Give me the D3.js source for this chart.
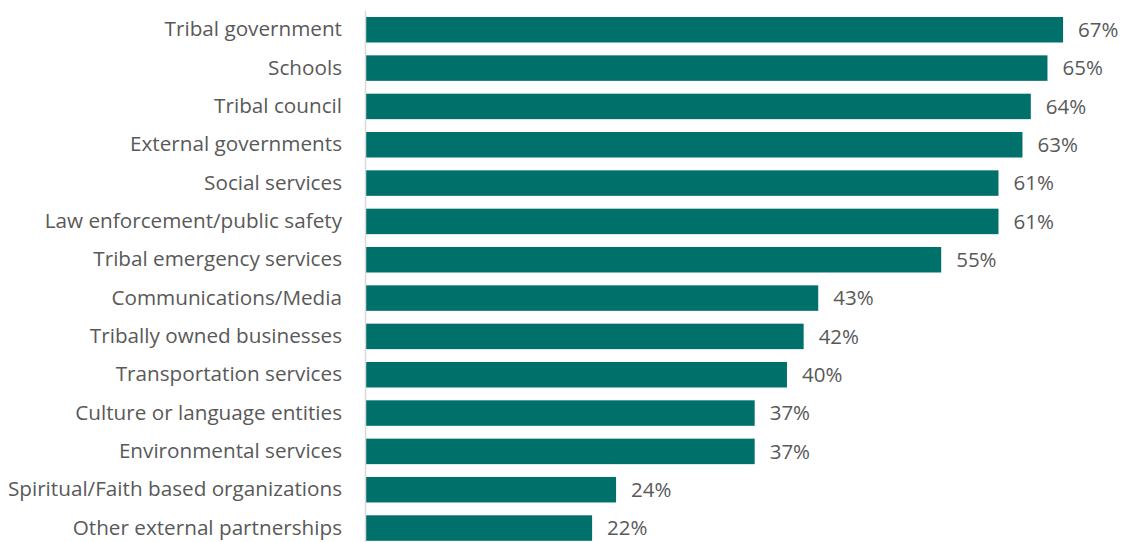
<!DOCTYPE html>
<html>
<head>
<meta charset="utf-8">
<script src="https://cdn.jsdelivr.net/npm/d3@7"></script>
<style>
  html, body { margin: 0; padding: 0; background: #fff; }
  svg { display: block; }
  text { font-family: "Open Sans", Lato, sans-serif; fill: #595959; }
</style>
</head>
<body>
<svg id="chart" width="1124" height="542"></svg>
<script>
const categories = [
  "Tribal government",
  "Schools",
  "Tribal council",
  "External governments",
  "Social services",
  "Law enforcement/public safety",
  "Tribal emergency services",
  "Communications/Media",
  "Tribally owned businesses",
  "Transportation services",
  "Culture or language entities",
  "Environmental services",
  "Spiritual/Faith based organizations",
  "Other external partnerships"
];
const values = [66.9, 65.4, 63.8, 63.0, 60.7, 60.7, 55.2, 43.4, 42.0, 40.4, 37.3, 37.3, 24.0, 21.7];

const svg = d3.select("#chart");
const x0 = 366;
const x = d3.scaleLinear().domain([0, 70]).range([x0, x0 + 729.4]);
const y = d3.scaleBand().domain(categories).range([10.6, 10.6 + 14 * 38.33]).paddingInner(0.335).paddingOuter(0.1675);

const data = categories.map((c, i) => ({ c, v: values[i] }));

svg.append("g").selectAll("rect").data(data).join("rect")
  .attr("x", x(0))
  .attr("y", d => y(d.c))
  .attr("width", d => x(d.v) - x(0))
  .attr("height", y.bandwidth())
  .attr("fill", "#00706A");

// axis line
svg.append("line")
  .attr("x1", x0 - 0.5).attr("x2", x0 - 0.5)
  .attr("y1", 11).attr("y2", 542)
  .attr("stroke", "#d9d9d9").attr("stroke-width", 1.5);

const yAxis = d3.axisLeft(y).tickSize(0).tickPadding(24);
const ga = svg.append("g").attr("transform", `translate(${x0},0)`).call(yAxis);
ga.select(".domain").remove();
ga.selectAll("text").attr("font-size", 20.7).attr("fill", "#595959").style("font-family", "'Open Sans', Lato, sans-serif");

const fmt = d3.format(".0f");
svg.append("g").selectAll("text").data(data).join("text")
  .attr("x", d => x(d.v) + 15)
  .attr("y", d => y(d.c) + y.bandwidth() / 2)
  .attr("dy", "0.35em")
  .attr("font-size", 20.5)
  .text(d => fmt(d.v) + "%");
</script>
</body>
</html>
